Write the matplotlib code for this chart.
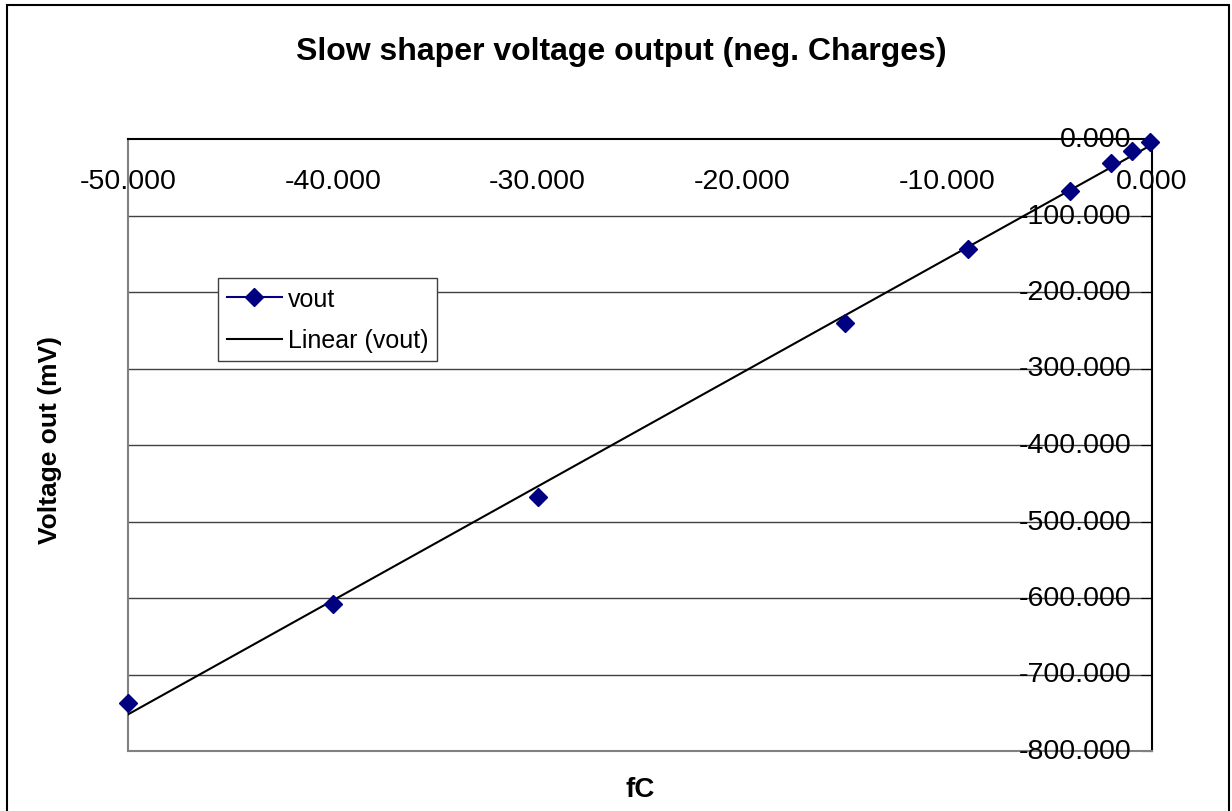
"""Slow shaper voltage output vs injected charge (negative charges)."""

import numpy as np
import matplotlib
matplotlib.use("Agg")
import matplotlib.pyplot as plt
from matplotlib.patches import Rectangle

plt.rcParams["font.family"] = ["Liberation Sans", "DejaVu Sans"]

# charge (fC) and measured output (mV)
charge_fc = [-50, -40, -30, -15, -9, -4, -2, -1, -0.1]
vout_mv = [-737, -608, -468, -240, -144, -68, -32, -16, -3.5]

x_ticks = [-50, -40, -30, -20, -10, 0]
y_ticks = [0, -100, -200, -300, -400, -500, -600, -700, -800]

NAVY = "#000080"


def main() -> None:
    fig = plt.figure(figsize=(12.32, 8.12), dpi=100)
    ax = fig.add_axes([128 / 1232, 1 - 752 / 812, 1024 / 1232, 612 / 812])

    # outer chart border
    fig.patches.append(
        Rectangle((7 / 1232, -0.05), 1222 / 1232, 1 - 6 / 812 + 0.05,
                  transform=fig.transFigure, fill=False, edgecolor="black",
                  linewidth=1.5)
    )

    for yv in y_ticks[1:-1]:
        ax.axhline(yv, color="#404040", linewidth=1.0, zorder=1)

    # linear trendline
    slope, intercept = np.polyfit(charge_fc, vout_mv, 1)
    xs = np.array([min(charge_fc), max(charge_fc)])
    ax.plot(xs, slope * xs + intercept, color="black", linewidth=1.5,
            label="Linear (vout)", zorder=3)

    ax.plot(charge_fc, vout_mv, linestyle="none", marker="D", markersize=9,
            color=NAVY, label="vout", zorder=4, clip_on=False)

    ax.set_xlim(-50, 0)
    ax.set_ylim(-800, 0)

    # axes cross at zero: x axis on top, y axis on right
    ax.xaxis.tick_top()
    ax.yaxis.tick_right()
    ax.set_xticks(x_ticks)
    ax.set_yticks(y_ticks)
    ax.tick_params(axis="x", length=0, labeltop=False, labelbottom=False)
    for t in x_ticks:
        ax.text(t, -55, "%.3f" % t, ha="center", va="center", fontsize=20.5)
    ax.tick_params(axis="y", direction="in", length=8, labelright=False)
    for t in y_ticks:
        ax.text(-1.0, t, "%.3f" % t, ha="right", va="center", fontsize=20.5)

    ax.spines["top"].set_color("black")
    ax.spines["right"].set_color("black")
    ax.spines["left"].set_color("#808080")
    ax.spines["bottom"].set_color("#808080")
    for s in ax.spines.values():
        s.set_linewidth(1.5)

    handles, labels = ax.get_legend_handles_labels()
    leg = ax.legend(handles[::-1], labels[::-1], loc="upper left",
                    bbox_to_anchor=(90 / 1024, 1 - 139 / 612), fontsize=18,
                    frameon=True, fancybox=False, edgecolor="#404040",
                    framealpha=1, borderpad=0.35, handlelength=2.2,
                    handletextpad=0.25, labelspacing=0.7, borderaxespad=0)
    leg.get_frame().set_linewidth(1.0)
    # vout entry shows line with marker, as in the spreadsheet legend
    leg.legend_handles[0].set_linestyle("-")
    leg.legend_handles[0].set_linewidth(1.5)
    leg.legend_handles[0].set_markersize(9)

    fig.text(621 / 1232, 1 - 52 / 812,
             "Slow shaper voltage output (neg. Charges)",
             ha="center", va="center", fontsize=23, fontweight="bold")
    fig.text(640 / 1232, 1 - 790 / 812, "fC", ha="center", va="center",
             fontsize=20, fontweight="bold")
    fig.text(50 / 1232, 1 - 440 / 812, "Voltage out (mV)", ha="center",
             va="center", rotation=90, fontsize=19, fontweight="bold")

    fig.savefig("out.png", dpi=100)


if __name__ == "__main__":
    main()
